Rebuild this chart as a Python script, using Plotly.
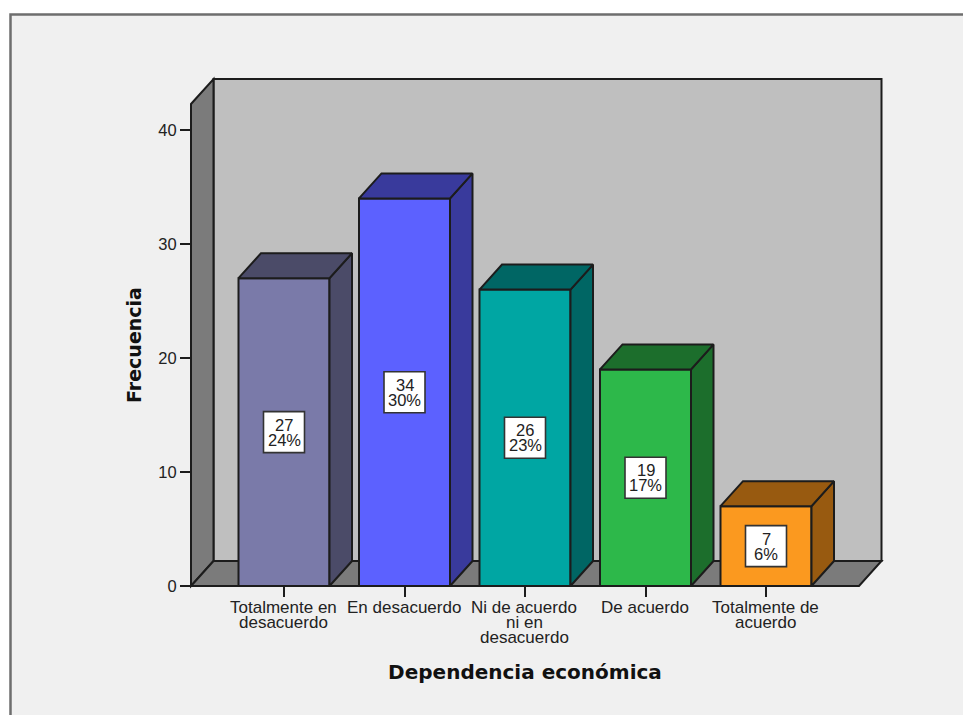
import plotly.graph_objects as go

categories = [["Totalmente en", "desacuerdo"], ["En desacuerdo"],
              ["Ni de acuerdo", "ni en", "desacuerdo"], ["De acuerdo"],
              ["Totalmente de", "acuerdo"]]
frecuencia = [27, 34, 26, 19, 7]
porcentaje = ["24%", "30%", "23%", "17%", "6%"]
front_colors = ["#7a7aa9", "#5c61ff", "#00a6a3", "#2db84a", "#fb991f"]
side_colors = ["#4b4b68", "#393a9c", "#006664", "#1c6e2c", "#985a10"]
y_ticks = [0, 10, 20, 30, 40]

# The page body sits 8 px from the window's corner, so the figure is 8 px smaller.
PX_X, PX_Y = 120.5, 11.4
W, H = 963, 707
L, T = 142, 62
R, B = 71, 95
ORIG_X, ORIG_Y = 276, 578
WALL_X = 183
x_range = [(L - ORIG_X) / PX_X, (W - R - ORIG_X) / PX_X]
y_range = [(ORIG_Y - (H - B)) / PX_Y, (ORIG_Y - T) / PX_Y]
DX, DY = 22.5 / PX_X, 25 / PX_Y      # depth of the 3-D effect
BAR_W = 91 / PX_X
X0, X1 = (WALL_X - ORIG_X) / PX_X, 575 / PX_X  # front edges of floor
YTOP = 482 / PX_Y                    # front top of left wall
INK = "#1c1c1c"
LW = 2
TXT = dict(family="Liberation Sans", size=16.5, color="#222222")
CAT_TXT = dict(family="Liberation Sans", size=17, color="#222222")
idx = list(range(len(frecuencia)))


def poly(pts):
    return "M" + " L".join(f"{x} {y}" for x, y in pts) + " Z"


wall_style = dict(type="path", xref="x", yref="y", layer="below", line=dict(color=INK, width=LW))
shapes = [
    dict(type="rect", xref="paper", yref="paper", layer="below",
         x0=(2.5 - L) / (W - L - R), x1=(W + 20 - L) / (W - L - R),
         y0=-(B + 20) / (H - T - B), y1=(H - B - 6.5) / (H - T - B),
         fillcolor="#f0f0f0", line=dict(color="#6e6e6e", width=2.5)),
    dict(path=poly([(X0 + DX, DY), (X1 + DX, DY), (X1 + DX, YTOP + DY), (X0 + DX, YTOP + DY)]),
         fillcolor="#bfbfbf", **wall_style),
    dict(path=poly([(X0, 0), (X0 + DX, DY), (X0 + DX, YTOP + DY), (X0, YTOP)]),
         fillcolor="#7b7b7b", **wall_style),
    dict(path=poly([(X0, 0), (X1, 0), (X1 + DX, DY), (X0 + DX, DY)]),
         fillcolor="#7b7b7b", **wall_style),
]

fig = go.Figure()
fig.add_trace(go.Bar(x=idx, y=frecuencia, width=BAR_W,
                     marker=dict(color=front_colors, line=dict(color=INK, width=LW)),
                     hoverinfo="skip", showlegend=False))

annotations = []
BOX_W, BOX_H = 41 / PX_X, 41 / PX_Y
for i, v in enumerate(frecuencia):
    a, b = i - BAR_W / 2, i + BAR_W / 2
    top = [(a, v), (b, v), (b + DX, v + DY), (a + DX, v + DY), (a, v)]
    side = [(b, 0), (b + DX, DY), (b + DX, v + DY), (b, v), (b, 0)]
    for pts in (side, top):
        fig.add_trace(go.Scatter(x=[p[0] for p in pts], y=[p[1] for p in pts], mode="lines", fill="toself",
                                 fillcolor=side_colors[i], line=dict(color=INK, width=LW),
                                 hoverinfo="skip", showlegend=False))
    shapes.append(dict(type="rect", xref="x", yref="y", layer="above",
                       x0=i - BOX_W / 2, x1=i + BOX_W / 2, y0=v / 2 - BOX_H / 2, y1=v / 2 + BOX_H / 2,
                       fillcolor="white", line=dict(color="#333333", width=1.6)))
    for txt, shift in ((str(v), 7.5), (porcentaje[i], -7.5)):
        annotations.append(dict(x=i, y=v / 2, xref="x", yref="y", text=txt, showarrow=False, yshift=shift,
                                font=TXT))
    for j, line in enumerate(categories[i]):
        annotations.append(dict(x=i, y=0, xref="x", yref="y", text=line, showarrow=False, yanchor="middle",
                                yshift=-(21 + 15 * j), xshift=-1, font=CAT_TXT))

fig.update_layout(
    width=W, height=H, margin=dict(l=L, r=R, t=T, b=B, pad=0, autoexpand=False),
    paper_bgcolor="white", plot_bgcolor="rgba(0,0,0,0)", shapes=shapes, annotations=annotations,
    font=dict(family="Liberation Sans", color="#222222"), showlegend=False,
    xaxis=dict(range=x_range, tickvals=idx, ticktext=[""] * 5, ticks="outside", ticklen=10, tickwidth=1.8,
               tickcolor=INK, showgrid=False, zeroline=False, showline=False,
               anchor="free", position=(H - B - ORIG_Y) / (H - T - B),
               title=dict(text="<b>Dependencia económica</b>", standoff=66,
                          font=dict(family="DejaVu Sans", size=20, color="#111111"))),
    yaxis=dict(range=y_range, tickvals=y_ticks, ticks="outside", ticklen=11, tickwidth=1.8, tickcolor=INK,
               showgrid=False, zeroline=False, showline=False, tickfont=TXT,
               anchor="free", position=(WALL_X - L) / (W - L - R),
               title=dict(text="<b>Frecuencia</b>", standoff=10,
                          font=dict(family="DejaVu Sans", size=19, color="#111111"))),
)
fig.write_html("out.html")
